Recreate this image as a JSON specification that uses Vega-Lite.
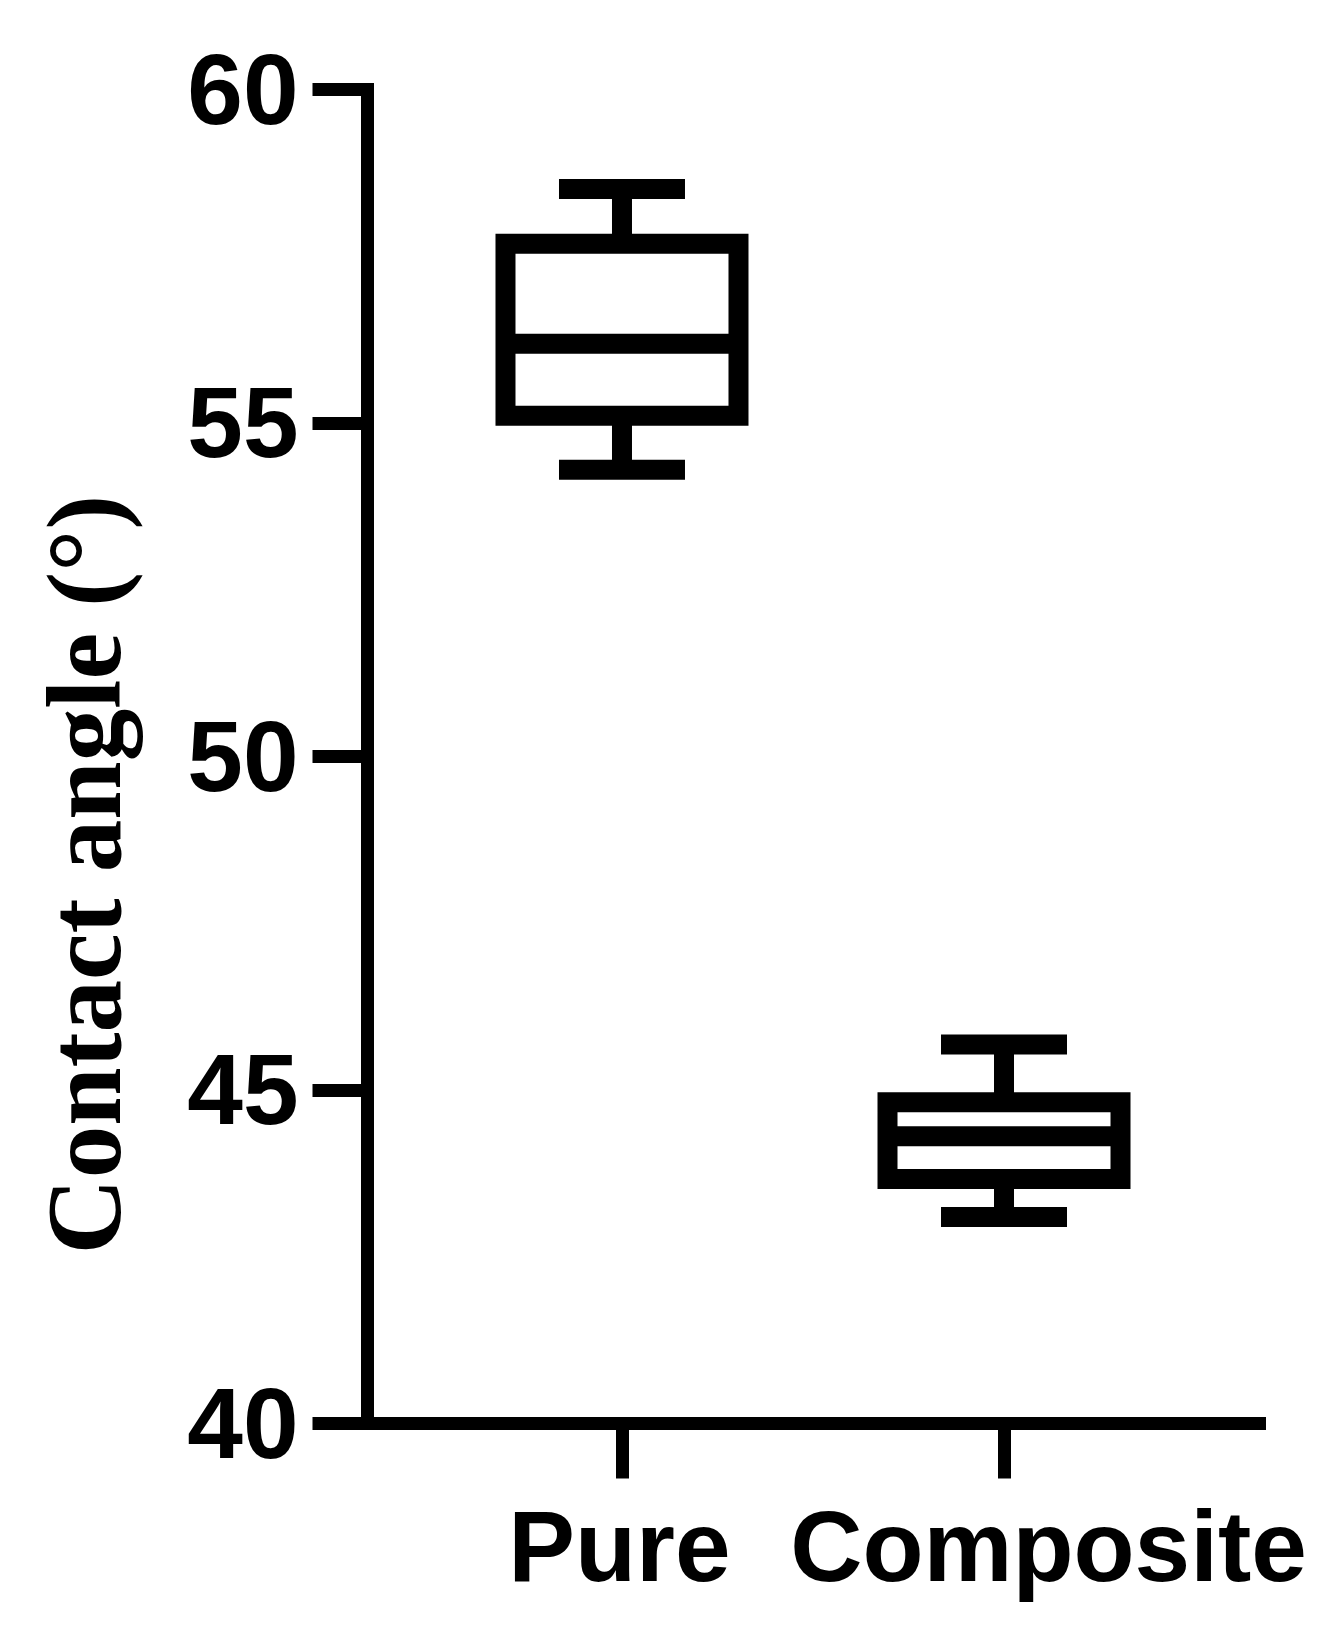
{
  "$schema": "https://vega.github.io/schema/vega-lite/v6.json",
  "autosize": "none",
  "padding": {"left": 367, "top": 89, "right": 81, "bottom": 223},
  "width": 892,
  "height": 1334,
  "background": "white",
  "config": {"view": {"stroke": null}},
  "data": {"values": [
    {"group": "Pure", "min": 54.29, "q1": 55.10, "median": 56.18, "q3": 57.68, "max": 58.50},
    {"group": "Composite", "min": 43.09, "q1": 43.66, "median": 44.30, "q3": 44.81, "max": 45.675}
  ]},
  "encoding": {
    "x": {
      "field": "group", "type": "nominal", "sort": ["Pure", "Composite"],
      "scale": {"type": "point", "padding": 0.6675},
      "axis": {
        "title": null, "labelAngle": 0, "orient": "bottom", "labelLimit": 0, "labelOverlap": false,
        "domainColor": "black", "domainWidth": 13, "domainCap": "square",
        "tickColor": "black", "tickWidth": 13, "tickSize": 55,
        "labelFont": "Liberation Sans", "labelFontWeight": "bold", "labelFontSize": 100,
        "labelColor": "black", "labelBaseline": "top", "labelPadding": 23,
        "labelOffset": {"condition": {"test": "datum.value === 'Composite'", "value": 44}, "value": -3}
      }
    }
  },
  "layer": [
    {
      "mark": {"type": "rule", "color": "black", "strokeWidth": 20},
      "encoding": {
        "y": {"field": "min", "type": "quantitative",
          "scale": {"domain": [40, 60], "nice": false, "zero": false},
          "axis": {
            "values": [40, 45, 50, 55, 60], "format": "d", "grid": false, "labelLimit": 0, "labelOverlap": false,
            "title": "Contact angle (°)",
            "titleFont": "Liberation Serif", "titleFontWeight": "bold", "titleFontSize": 105,
            "titleColor": "black", "titleAngle": -90, "titleAlign": "center", "titleBaseline": "alphabetic",
            "titleX": -248, "titleY": 785, "titleLimit": 0,
            "domainColor": "black", "domainWidth": 13, "domainCap": "square",
            "tickColor": "black", "tickWidth": 13, "tickSize": 55,
            "labelFont": "Liberation Sans", "labelFontWeight": "bold", "labelFontSize": 100,
            "labelColor": "black", "labelPadding": 14, "labelOffset": 4
          }
        },
        "y2": {"field": "max"}
      }
    },
    {
      "mark": {"type": "bar", "fill": "white", "stroke": "black", "strokeWidth": 20, "size": 233},
      "encoding": {
        "y": {"field": "q1", "type": "quantitative"},
        "y2": {"field": "q3"}
      }
    },
    {
      "mark": {"type": "tick", "color": "black", "opacity": 1, "size": 233, "thickness": 20},
      "encoding": {"y": {"field": "median", "type": "quantitative"}}
    },
    {
      "mark": {"type": "tick", "color": "black", "opacity": 1, "size": 126, "thickness": 20},
      "encoding": {"y": {"field": "min", "type": "quantitative"}}
    },
    {
      "mark": {"type": "tick", "color": "black", "opacity": 1, "size": 126, "thickness": 20},
      "encoding": {"y": {"field": "max", "type": "quantitative"}}
    }
  ]
}
